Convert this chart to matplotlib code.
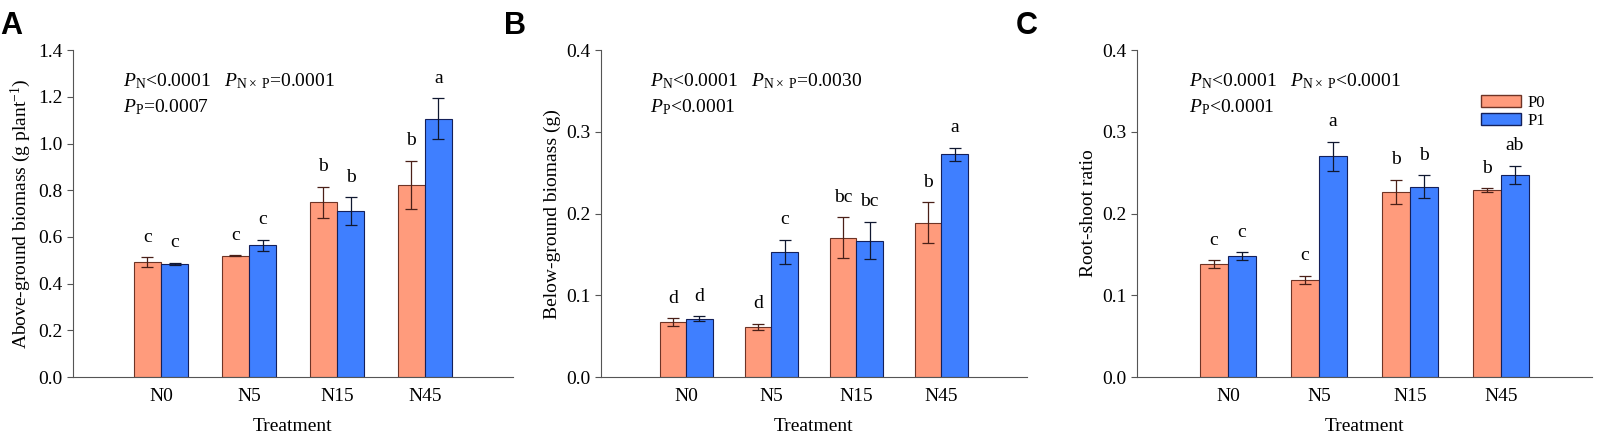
import numpy as np
import matplotlib
matplotlib.use("Agg")
import matplotlib.pyplot as plt
from matplotlib.patches import Patch

plt.rcParams['font.family'] = ['Liberation Serif', 'DejaVu Serif']
plt.rcParams['mathtext.fontset'] = 'custom'
plt.rcParams['mathtext.rm'] = 'Liberation Serif'
plt.rcParams['mathtext.it'] = 'Liberation Serif:italic'

# Data
treatments = ["N0", "N5", "N15", "N45"]

above_p0 = [0.493, 0.519, 0.749, 0.824]
above_p0_err = [0.020, 0.002, 0.066, 0.103]
above_p1 = [0.484, 0.564, 0.711, 1.107]
above_p1_err = [0.005, 0.024, 0.060, 0.086]
above_letters_p0 = ["c", "c", "b", "b"]
above_letters_p1 = ["c", "c", "b", "a"]

below_p0 = [0.0673, 0.0612, 0.1706, 0.189]
below_p0_err = [0.005, 0.004, 0.025, 0.025]
below_p1 = [0.0714, 0.153, 0.167, 0.2727]
below_p1_err = [0.003, 0.015, 0.023, 0.008]
below_letters_p0 = ["d", "d", "bc", "b"]
below_letters_p1 = ["d", "c", "bc", "a"]

ratio_p0 = [0.138, 0.119, 0.2265, 0.229]
ratio_p0_err = [0.005, 0.005, 0.015, 0.002]
ratio_p1 = [0.148, 0.270, 0.2327, 0.2478]
ratio_p1_err = [0.005, 0.018, 0.014, 0.011]
ratio_letters_p0 = ["c", "c", "b", "b"]
ratio_letters_p1 = ["c", "a", "b", "ab"]

p0_color = "#FF9B7C"
p1_color = "#3F7FFF"
p0_edge = "#6E3426"
p1_edge = "#14205A"

fig = plt.figure(figsize=(15.99, 4.4), dpi=100)


def draw_panel(rect, p0, p0_err, p1, p1_err, let0, let1, ymax, yticks, ylabel,
               stats, panel, legend=False):
    ax = fig.add_axes(rect)
    x = np.arange(1, len(treatments) + 1)
    w = 0.31
    ax.bar(x - w / 2, p0, w, color=p0_color, edgecolor=p0_edge, linewidth=0.8)
    ax.bar(x + w / 2, p1, w, color=p1_color, edgecolor=p1_edge, linewidth=0.8)
    ax.errorbar(x - w / 2, p0, yerr=p0_err, fmt="none", ecolor="#4A2018",
                elinewidth=0.9, capsize=4, capthick=0.9)
    ax.errorbar(x + w / 2, p1, yerr=p1_err, fmt="none", ecolor="#101830",
                elinewidth=0.9, capsize=4, capthick=0.9)
    off = ymax * 0.035
    for i in range(len(x)):
        ax.text(x[i] - w / 2, p0[i] + p0_err[i] + off, let0[i], ha="center",
                va="bottom", fontsize=14)
        ax.text(x[i] + w / 2, p1[i] + p1_err[i] + off, let1[i], ha="center",
                va="bottom", fontsize=14)
    ax.set_xlim(0, 5)
    ax.set_ylim(0, ymax)
    ax.set_xticks(x)
    ax.set_xticklabels(treatments, fontsize=14)
    ax.set_yticks(yticks)
    ax.set_yticklabels(["%.1f" % t for t in yticks], fontsize=14)
    ax.tick_params(axis="x", length=0, pad=8)
    ax.tick_params(axis="y", direction="out", length=4, width=0.8, color="#555555")
    for s in ["top", "right"]:
        ax.spines[s].set_visible(False)
    for s in ["left", "bottom"]:
        ax.spines[s].set_color("#555555")
        ax.spines[s].set_linewidth(0.8)
    ax.set_xlabel("Treatment", fontsize=14, labelpad=9)
    ax.set_ylabel(ylabel, fontsize=14)
    ax.text(0.114, 0.905, stats[0], transform=ax.transAxes, fontsize=14,
            va="center", ha="left")
    ax.text(0.114, 0.825, stats[1], transform=ax.transAxes, fontsize=14,
            va="center", ha="left")
    fig.text(panel[1], 0.975, panel[0], fontsize=22, fontweight="bold",
             family="Liberation Sans", va="top", ha="left")
    if legend:
        handles = [Patch(facecolor=p0_color, edgecolor=p0_edge, label="P0"),
                   Patch(facecolor=p1_color, edgecolor=p1_edge, label="P1")]
        ax.legend(handles=handles, loc="upper right", bbox_to_anchor=(0.93, 0.91),
                  frameon=False, fontsize=12, handlelength=2.4, handleheight=0.7,
                  labelspacing=0.15, handletextpad=0.4)
    return ax


draw_panel([0.0457, 0.143, 0.275, 0.743], above_p0, above_p0_err, above_p1, above_p1_err,
           above_letters_p0, above_letters_p1, 1.4, np.arange(0, 1.41, 0.2),
           r"Above-ground biomass (g plant$^{-1}$)",
           [r"$\mathit{P}_{\mathrm{N}}$<0.0001   $\mathit{P}_{\mathrm{N\times\ P}}$=0.0001",
            r"$\mathit{P}_{\mathrm{P}}$=0.0007"], ("A", 0.0))

draw_panel([0.376, 0.143, 0.266, 0.743], below_p0, below_p0_err, below_p1, below_p1_err,
           below_letters_p0, below_letters_p1, 0.4, np.arange(0, 0.41, 0.1),
           "Below-ground biomass (g)",
           [r"$\mathit{P}_{\mathrm{N}}$<0.0001   $\mathit{P}_{\mathrm{N\times\ P}}$=0.0030",
            r"$\mathit{P}_{\mathrm{P}}$<0.0001"], ("B", 0.315))

draw_panel([0.711, 0.143, 0.2846, 0.743], ratio_p0, ratio_p0_err, ratio_p1, ratio_p1_err,
           ratio_letters_p0, ratio_letters_p1, 0.4, np.arange(0, 0.41, 0.1),
           "Root-shoot ratio",
           [r"$\mathit{P}_{\mathrm{N}}$<0.0001   $\mathit{P}_{\mathrm{N\times\ P}}$<0.0001",
            r"$\mathit{P}_{\mathrm{P}}$<0.0001"], ("C", 0.635), legend=True)

fig.savefig("out.png", dpi=100)
